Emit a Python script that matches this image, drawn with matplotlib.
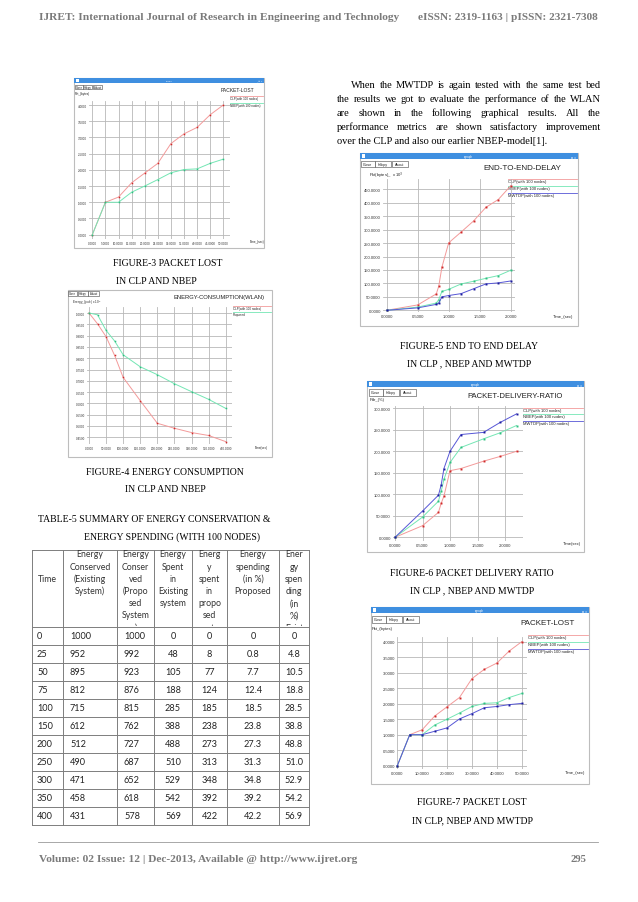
import matplotlib

matplotlib.use("Agg")
import matplotlib.pyplot as plt  # noqa: E402
from matplotlib.patches import Rectangle  # noqa: E402

W, H = 638, 903

# ---------------- data ----------------
# table 5 : energy conservation & spending (100 nodes)
tbl_time = [0, 25, 50, 75, 100, 150, 200, 250, 300, 350, 400]
conserved_existing = [1000, 952, 895, 812, 715, 612, 512, 490, 471, 458, 431]
conserved_proposed = [1000, 992, 923, 876, 815, 762, 727, 687, 652, 618, 578]
spent_existing = [0, 48, 105, 188, 285, 388, 488, 510, 529, 542, 569]
spent_proposed = [0, 8, 77, 124, 185, 238, 273, 313, 348, 392, 422]
pct_proposed = [0, 0.8, 7.7, 12.4, 18.5, 23.8, 27.3, 31.3, 34.8, 39.2, 42.2]
pct_existing = [0, 4.8, 10.5, 18.8, 28.5, 38.8, 48.8, 51.0, 52.9, 54.2, 56.9]
tbl_header = [
    ["Time"],
    ["Energy", "Conserved", "(Existing", "System)"],
    ["Energy", "Conser", "ved", "(Propo", "sed", "System", ")"],
    ["Energy", "Spent", "in", "Existing", "system"],
    ["Energ", "y", "spent", "in", "propo", "sed", "syste"],
    ["Energy", "spending", "(in %)", "Proposed"],
    ["Ener", "gy", "spen", "ding", "(in", "%)", "Exist"],
]

# packet lost (fig 3 and fig 7)
pl_time = [0, 5, 10, 15, 20, 25, 30, 35, 40, 45, 50]
pl_clp = [0, 1.0, 1.16, 1.60, 1.90, 2.20, 2.81, 3.11, 3.31, 3.70, 4.0]
pl_nbep = [0, 1.0, 1.0, 1.31, 1.50, 1.70, 1.91, 2.01, 2.03, 2.20, 2.33]
pl_mwtdp = [0, 1.0, 1.0, 1.11, 1.22, 1.51, 1.68, 1.87, 1.91, 1.97, 2.01]

# end to end delay (fig 5)
e2e_time = [0, 0.5, 0.8, 0.84, 0.89, 1.0, 1.2, 1.4, 1.6, 1.8, 2.0]
e2e_clp = [0, 20, 61, 90, 160, 251, 291, 332, 383, 412, 463]
e2e_nbep = [0, 12, 27, 40, 70, 78, 98, 108, 119, 129, 149]
e2e_mwtdp = [0, 9, 22, 27, 50, 55, 62, 80, 98, 102, 109]

# packet delivery ratio (fig 6)
pdr_time = [0, 0.5, 0.79, 0.84, 0.89, 1.0, 1.2, 1.61, 1.91, 2.21]
pdr_clp = [0, 27, 58, 79, 96, 155, 160, 177, 188, 200]
pdr_nbep = [0, 47, 84, 107, 135, 174, 209, 229, 243, 260]
pdr_mwtdp = [0, 61, 98, 122, 160, 200, 239, 244, 267, 287]

# axis ticks of the xgraph screenshots
fig3_xticks = [0, 5, 10, 15, 20, 25, 30, 35, 40, 45, 50]
fig3_yticks = [0, 0.5, 1.0, 1.5, 2.0, 2.5, 3.0, 3.5, 4.0]
fig4_xticks = [0, 50, 100, 150, 200, 250, 300, 350, 400]
fig4_yticks = [0.45, 0.5, 0.55, 0.6, 0.65, 0.7, 0.75, 0.8, 0.85, 0.9, 0.95, 1.0]
fig5_xticks = [0, 0.5, 1.0, 1.5, 2.0]
fig5_yticks = [0, 50, 100, 150, 200, 250, 300, 350, 400, 450]
fig6_xticks = [0, 0.5, 1.0, 1.5, 2.0]
fig6_yticks = [0, 50, 100, 150, 200, 250, 300]
fig7_xticks = [0, 10, 20, 30, 40, 50]
fig7_yticks = [0, 0.5, 1.0, 1.5, 2.0, 2.5, 3.0, 3.5, 4.0]

paragraph = [
    "When the MWTDP is again tested with the same test bed",
    "the results we got to evaluate the performance of the WLAN",
    "are shown in the following graphical results. All the",
    "performance metrics are shown satisfactory improvement",
    "over the CLP and also our earlier NBEP-model[1].",
]

# (line, marker) colours
RED = ("#f39a9a", "#d02a2a")
GREEN = ("#74e6b4", "#2fbf80")
BLUE = ("#5656d6", "#1c1c9c")

SERIF = "Liberation Serif"
SANS = "Liberation Sans"

fig = plt.figure(figsize=(W / 100, H / 100), dpi=100)
page = fig.add_axes([0, 0, 1, 1])
page.set_xlim(0, W)
page.set_ylim(H, 0)
page.axis("off")
renderer = fig.canvas.get_renderer()


def fit_text(x, y, s, width, **kw):
    t = page.text(x, y, s, va="center", **kw)
    w = t.get_window_extent(renderer).width
    t.set_fontsize(t.get_fontsize() * width / w)
    return t


def justify(line, x0, x1, y, fs, last=False):
    if last:
        page.text(x0, y, line, fontsize=fs, family=SERIF, va="center")
        return
    words = line.split()
    ts = [page.text(0, y, w, fontsize=fs, family=SERIF, va="center") for w in words]
    ws = [t.get_window_extent(renderer).width for t in ts]
    gap = (x1 - x0 - sum(ws)) / (len(ws) - 1)
    x = x0
    for t, w in zip(ts, ws):
        t.set_x(x)
        x += w + gap


def window(box, bar_h, btn, fs):
    left, top, right, bottom = box
    page.add_patch(Rectangle((left, top), right - left, bottom - top,
                             fc="white", ec="#bdbdbd", lw=0.8))
    if bar_h:
        page.add_patch(Rectangle((left, top), right - left, bar_h, fc="#3f8fe0", ec="none"))
        page.add_patch(Rectangle((left + 2, top + 1.2), 3, bar_h - 2.4, fc="white", ec="none"))
        page.text((left + right) / 2, top + bar_h / 2, "xgraph", color="white",
                  fontsize=fs * 0.8, family=SANS, ha="center", va="center")
        page.text(right - 2, top + bar_h / 2, "_  \u25a1  x", color="white",
                  fontsize=fs * 0.8, family=SANS, ha="right", va="center")
    bx, by, bw, bh = btn
    x = bx
    for name, frac in zip(("Close", "Hdcpy", "About"), (0.3, 0.34, 0.36)):
        w = bw * frac - 0.6
        page.add_patch(Rectangle((x, by), w, bh, fc="white", ec="#444", lw=0.4))
        page.text(x + w / 2, by + bh / 2, name, fontsize=fs, family=SANS,
                  ha="center", va="center", color="#222")
        x += w + 0.6


def panel(box, xcal, ycal, xticks, yticks, fs):
    left, top, right, bottom = box
    ax = fig.add_axes([left / W, 1 - bottom / H, (right - left) / W, (bottom - top) / H])
    ax.patch.set_alpha(0)
    a0, p0, a1, p1 = xcal
    k = (a1 - a0) / (p1 - p0)
    ax.set_xlim(a0 + (left - p0) * k, a0 + (right - p0) * k)
    a0, p0, a1, p1 = ycal
    k = (a1 - a0) / (p1 - p0)
    ax.set_ylim(a0 + (bottom - p0) * k, a0 + (top - p0) * k)
    ax.set_xticks(xticks)
    ax.set_xticklabels([f"{v:.4f}" for v in xticks])
    ax.set_yticks(yticks)
    ax.set_yticklabels([f"{v:.4f}" for v in yticks])
    ax.tick_params(length=0, labelsize=fs, pad=1.5, colors="#333")
    for lab in ax.get_xticklabels() + ax.get_yticklabels():
        lab.set_family(SANS)
    for s in ax.spines.values():
        s.set_visible(False)
    ax.grid(True, color="#b8b8b8", lw=0.6)
    ax.set_axisbelow(True)
    return ax


def series(ax, x, y, colors, ms=1.4):
    ax.plot(x, y, color=colors[0], lw=0.7, marker="s", ms=ms,
            mfc=colors[1], mec=colors[1], mew=0, clip_on=False)


def legend(x, ys, labels, colors, right, fs):
    for y, lab, c in zip(ys, labels, colors):
        page.plot([x, right - 1], [y - 2.2, y - 2.2], color=c[0], lw=0.6)
        page.text(x, y, lab, fontsize=fs, family=SANS, va="center", color="#222")


def label(x, y, s, fs, **kw):
    page.text(x, y, s, fontsize=fs, family=SANS, va="center", color="#222", **kw)


def caption(lines, cx, ys, fs=7, ha="center"):
    for s, y in zip(lines, ys):
        page.text(cx, y, s, fontsize=fs, family=SERIF, ha=ha, va="center")


# ---------------- header / footer ----------------
fit_text(38.6, 18, "IJRET: International Journal of Research in Engineering and Technology",
         356, fontsize=8, family=SERIF, weight="bold", color="#7a7a7a")
fit_text(598, 18, "eISSN: 2319-1163 | pISSN: 2321-7308", 179, fontsize=8,
         family=SERIF, weight="bold", color="#7a7a7a", ha="right")
page.plot([38, 598], [843, 843], color="#9a9a9a", lw=0.6)
fit_text(38.6, 860, "Volume: 02 Issue: 12 | Dec-2013, Available @ http://www.ijret.org",
         317, fontsize=8, family=SERIF, weight="bold", color="#7a7a7a")
page.text(586, 860, "295", fontsize=7.6, family=SERIF, weight="bold",
          color="#7a7a7a", ha="right", va="center")

# ---------------- fig 3 : packet lost (CLP, NBEP) ----------------
window((74, 79, 264, 249), 5, (75, 85.5, 28, 4.5), 2.0)
label(221, 90, "PACKET-LOST", 3.6)
label(75, 94.5, "Pkt_(bytes)", 2.2)
label(250, 242, "Time_(sec)", 2.2)
ax = panel((89, 102, 230, 240), (0, 92.3, 50, 223.3), (0, 235.7, 4, 106),
           fig3_xticks, fig3_yticks, 2.2)
series(ax, pl_time, pl_clp, RED, 1.1)
series(ax, pl_time, pl_nbep, GREEN, 1.1)
legend(230, [99, 106.5], ["CLP(with 100 nodes)", "NBEP(with 100 nodes)"],
       [RED, GREEN], 264, 2.2)
caption(["FIGURE-3 PACKET LOST"], 168, [264])
caption(["IN CLP AND NBEP"], 156, [282])

# ---------------- fig 4 : energy consumption ----------------
window((68, 291, 272, 458), 0, (68, 292, 32, 5), 2.0)
label(173, 297.5, "ENERGY-CONSUMPTION(WLAN)", 4.2)
label(72, 302.5, "Energy_(joule) x 10$^3$", 2.2)
label(255, 448, "Time(sec)", 2.2)
ax = panel((87, 308, 232, 445), (0, 89, 400, 225.7), (1.0, 314, 0.45, 438.3),
           fig4_xticks, fig4_yticks, 2.2)
series(ax, tbl_time, [v / 1000 for v in conserved_existing], RED, 1.1)
series(ax, tbl_time, [v / 1000 for v in conserved_proposed], GREEN, 1.1)
legend(233, [309.5, 315.5], ["CLP(with 100 nodes)", "Proposed"], [RED, GREEN], 272, 2.2)
caption(["FIGURE-4 ENERGY CONSUMPTION", "IN CLP AND NBEP"], 165, [473, 490])

# ---------------- table 5 ----------------
caption(["TABLE-5 SUMMARY OF ENERGY CONSERVATION &"], 38, [520], ha="left")
caption(["ENERGY SPENDING (WITH 100 NODES)"], 172, [537])

col_edges = [32, 63, 117, 154, 192, 227, 279, 309]
tbl_top, hdr_bot, row_h = 551, 628, 18
tbl_bot = hdr_bot + row_h * len(tbl_time)
line_kw = dict(color="#7d7d7d", lw=0.7)
for xe in col_edges:
    page.plot([xe, xe], [tbl_top, tbl_bot], **line_kw)
for ye in [tbl_top] + [hdr_bot + row_h * i for i in range(len(tbl_time) + 1)]:
    page.plot([col_edges[0], col_edges[-1]], [ye, ye], **line_kw)

hdr_clip = Rectangle((col_edges[0], tbl_top), col_edges[-1] - col_edges[0],
                     hdr_bot - tbl_top - 0.8, transform=page.transData)
for c, lines in enumerate(tbl_header):
    cx = (col_edges[c] + col_edges[c + 1]) / 2
    if c == 0:
        page.text(cx, 580, lines[0], fontsize=6.3, family="Lato", ha="center",
                  va="center", color="#333")
        continue
    for i, s in enumerate(lines):
        t = page.text(cx, 555 + 12.2 * i, s, fontsize=6.3, family="Lato",
                      ha="center", va="center", color="#333", clip_on=True)
        t.set_clip_path(hdr_clip)


def fmt_pct(v):
    return "0" if v == 0 else f"{v:.1f}"


columns = [
    [str(v) for v in tbl_time],
    [str(v) for v in conserved_existing],
    [str(v) for v in conserved_proposed],
    [str(v) for v in spent_existing],
    [str(v) for v in spent_proposed],
    [fmt_pct(v) for v in pct_proposed],
    [fmt_pct(v) for v in pct_existing],
]
for c, vals in enumerate(columns):
    for r, s in enumerate(vals):
        y = hdr_bot + row_h * (r + 0.5)
        if c < 3:
            x, ha = col_edges[c] + (5 if c == 0 else 7), "left"
        else:
            x, ha = (col_edges[c] + col_edges[c + 1]) / 2, "center"
        page.text(x, y, s, fontsize=6.6, family="Lato", ha=ha, va="center", color="#222")

# ---------------- right column paragraph ----------------
para_y = [85, 99.2, 113.4, 127.6, 141.8]
for i, (line, y) in enumerate(zip(paragraph, para_y)):
    justify(line, 351 if i == 0 else 337, 601, y, 7.5, last=(i == len(paragraph) - 1))

# ---------------- fig 5 : end to end delay ----------------
window((360, 154, 578, 327), 6, (361, 162, 48, 6), 2.6)
label(483, 168.5, "END-TO-END-DELAY", 5.8)
label(369, 175.5, "Pkt(bytes)_  x 10$^3$", 3.0)
label(553, 317, "Time_(sec)", 3.0)
ax = panel((383, 180, 515, 313), (0, 386.7, 2, 510.7), (0, 311.3, 450, 190.3),
           fig5_xticks, fig5_yticks, 3.0)
series(ax, e2e_time, e2e_clp, RED)
series(ax, e2e_time, e2e_nbep, GREEN)
series(ax, e2e_time, e2e_mwtdp, BLUE)
legend(508, [182.5, 189.3, 196], ["CLP(with 100 nodes)", "NBEP(with 100 nodes)",
                                  "MWTDP(with 100 nodes)"], [RED, GREEN, BLUE], 578, 3.0)
caption(["FIGURE-5 END TO END DELAY", "IN CLP , NBEP AND MWTDP"], 469, [347, 364])

# ---------------- fig 6 : packet delivery ratio ----------------
window((367, 382, 584, 553), 6, (369, 390, 48, 7), 2.6)
label(467, 396.5, "PACKET-DELIVERY-RATIO", 5.6)
label(370, 400.5, "Pdr_(%)", 3.0)
label(563, 544, "Time(sec)", 3.0)
ax = panel((393, 407, 523, 542), (0, 395, 2, 505), (0, 538.3, 300, 409.3),
           fig6_xticks, fig6_yticks, 3.0)
series(ax, pdr_time, pdr_clp, RED)
series(ax, pdr_time, pdr_nbep, GREEN)
series(ax, pdr_time, pdr_mwtdp, BLUE)
legend(523, [411, 417.5, 424], ["CLP(with 100 nodes)", "NBEP(with 100 nodes)",
                                "MWTDP(with 100 nodes)"], [RED, GREEN, BLUE], 584, 3.0)
caption(["FIGURE-6 PACKET DELIVERY RATIO", "IN CLP , NBEP AND MWTDP"], 472, [574, 591])

# ---------------- fig 7 : packet lost (CLP, NBEP, MWTDP) ----------------
window((371, 608, 589, 785), 6, (372, 617, 48, 7), 2.6)
label(520, 623.5, "PACKET-LOST", 5.8)
label(372, 629.5, "Pkt_(bytes)", 3.0)
label(565, 773, "Time_(sec)", 3.0)
ax = panel((397, 638, 527, 770), (0, 397.3, 50, 521.7), (0, 766.7, 4, 642.7),
           fig7_xticks, fig7_yticks, 3.0)
series(ax, pl_time, pl_clp, RED)
series(ax, pl_time, pl_nbep, GREEN)
series(ax, pl_time, pl_mwtdp, BLUE)
legend(528, [638.5, 645, 652], ["CLP(with 100 nodes)", "NBEP(with 100 nodes)",
                                "MWTDP(with 100 nodes)"], [RED, GREEN, BLUE], 589, 3.0)
caption(["FIGURE-7 PACKET LOST", "IN CLP, NBEP AND MWTDP"], 472, [803, 821])

fig.savefig("out.png", dpi=100)
